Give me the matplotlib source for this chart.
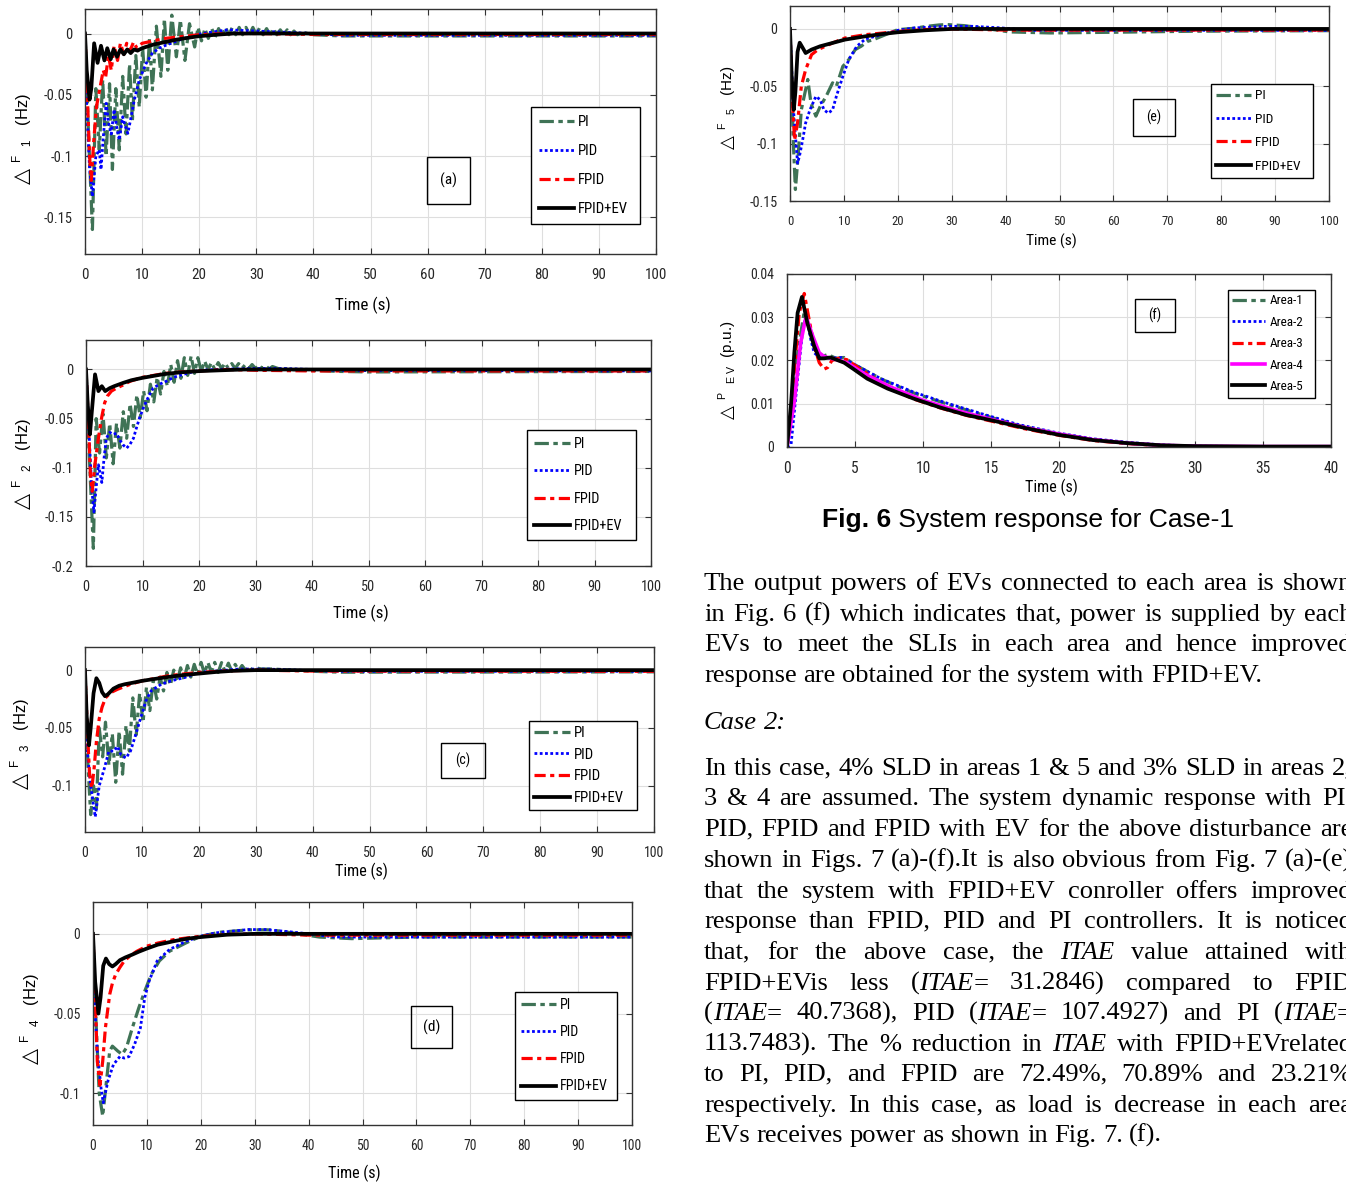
import matplotlib
matplotlib.use("Agg")
import matplotlib.pyplot as plt
from matplotlib import font_manager
from matplotlib.patches import Rectangle
from matplotlib.ticker import FuncFormatter

# ---------------------------------------------------------------
# Frequency deviations, areas 1..5 (time in s, deviation in Hz)
# ---------------------------------------------------------------
controllers = ['PI', 'PID', 'FPID', 'FPID+EV']

# area 1
a_t_pi = [0, 0.6, 1.3, 1.9, 2.5, 3.1, 3.7, 4.3, 4.8, 5.4, 6.0, 6.6, 7.2, 7.8, 8.3, 8.9, 9.5, 10.1, 10.7, 11.3,
          11.8, 12.5, 13.3, 13.9, 14.5, 15.2, 16.0, 16.7, 17.5, 18.3, 19.2, 19.8, 20.4, 21.0, 21.6, 22.2, 22.8,
          23.4, 24.0, 24.6, 25.2, 25.8, 26.4, 27.0, 27.6, 28.2, 28.8, 29.4, 30.0, 30.6, 31.2, 31.8, 32.4, 33.0,
          33.6, 34.2, 34.8, 35.4, 36.0, 36.6, 37.2, 38, 40, 45, 100]
a_pi = [0, -0.08, -0.160, -0.045, -0.095, -0.038, -0.100, -0.041, -0.111, -0.045, -0.095, -0.035, -0.082,
        -0.025, -0.071, -0.018, -0.060, -0.012, -0.052, -0.004, -0.046, 0.006, -0.035, 0.012, -0.030, 0.015,
        -0.019, 0.011, -0.022, 0.008, -0.011, 0.005, -0.006, 0.004, -0.004, 0.004, -0.003, 0.004, -0.002,
        0.005, -0.001, 0.005, -0.001, 0.005, -0.001, 0.005, -0.001, 0.005, -0.001, 0.005, -0.001, 0.004,
        -0.001, 0.004, -0.001, 0.003, -0.001, 0.003, -0.001, 0.002, -0.001, 0.001, -0.001, -0.002, -0.002]
a_t_pid = [0, 0.3, 0.8, 1.3, 1.9, 2.5, 2.8, 3.2, 3.7, 4.2, 4.6, 5.1, 5.6, 6.0, 6.6, 7.0, 7.5, 8.0, 8.6, 9.5,
           10.7, 11.8, 13.0, 14.2, 16.5, 19.5, 22, 25, 30, 35, 40, 45, 100]
a_pid = [0, -0.06, -0.11, -0.133, -0.10, -0.095, -0.111, -0.085, -0.057, -0.075, -0.082, -0.062, -0.078,
         -0.087, -0.068, -0.075, -0.0815, -0.07, -0.055, -0.038, -0.0245, -0.016, -0.012, -0.0095, -0.0054,
         -0.001, 0.001, 0.003, 0.002, 0.001, 0, -0.0015, -0.0015]
a_t_fpid = [0, 0.4, 0.8, 1.1, 1.5, 2.0, 2.6, 3.2, 3.6, 4.1, 4.6, 5.1, 5.7, 6.2, 6.8, 7.3, 7.9, 8.5, 9.1, 10,
            12, 14, 16, 18, 20, 25, 30, 40, 100]
a_fpid = [0, -0.05, -0.10, -0.12, -0.09, -0.06, -0.045, -0.03, -0.036, -0.018, -0.03, -0.01, -0.022, -0.008,
          -0.017, -0.008, -0.014, -0.007, -0.012, -0.008, -0.006, -0.004, -0.003, -0.002, -0.001, 0, 0,
          -0.0008, -0.0008]
a_t_ev = [0, 0.3, 0.8, 1.1, 1.6, 2.2, 2.8, 3.4, 3.9, 4.5, 5.0, 5.6, 6.2, 6.8, 7.4, 8.0, 8.6, 9.2, 10, 12, 14,
          16, 18, 20, 23, 26, 30, 100]
a_ev = [0, -0.03, -0.054, -0.045, -0.008, -0.024, -0.010, -0.022, -0.012, -0.021, -0.013, -0.019, -0.013,
        -0.017, -0.013, -0.016, -0.013, -0.014, -0.012, -0.009, -0.007, -0.005, -0.0035, -0.0022, -0.001, 0,
        0, 0]

# area 2
b_t_pi = [0, 0.6, 1.3, 1.8, 2.4, 3.0, 3.6, 4.2, 4.8, 5.4, 6.0, 6.6, 7.2, 7.8, 8.4, 9.0, 9.6, 10.2, 10.8, 11.4,
          12.0, 12.6, 13.2, 13.8, 14.4, 15.0, 15.6, 16.2, 16.8, 17.4, 18.0, 18.6, 19.2, 19.8, 20.4, 21.0, 21.6,
          22.2, 22.8, 23.4, 24.0, 24.6, 25.2, 25.8, 26.4, 27.0, 27.6, 28.2, 28.8, 29.4, 30.0, 30.6, 31.2, 31.8,
          32.4, 33.0, 34, 36, 40, 45, 50, 100]
b_pi = [0, -0.09, -0.182, -0.05, -0.085, -0.045, -0.09, -0.055, -0.096, -0.055, -0.08, -0.043, -0.07, -0.035,
        -0.058, -0.026, -0.049, -0.022, -0.042, -0.015, -0.033, -0.008, -0.025, -0.002, -0.017, 0.005, -0.013,
        0.009, -0.009, 0.012, -0.006, 0.0136, -0.004, 0.012, -0.002, 0.0085, 0.0, 0.007, 0.0, 0.007, 0.001,
        0.0065, 0.001, 0.006, 0.001, 0.006, 0.001, 0.005, 0.001, 0.005, 0.001, 0.0045, 0.001, 0.004, 0.0005,
        0.003, 0.001, 0.0, -0.001, -0.002, -0.0025, -0.002]
b_t_pid = [0, 0.5, 1.0, 1.4, 1.8, 2.2, 2.8, 3.2, 3.6, 4.2, 4.8, 5.4, 6.0, 6.6, 7.2, 7.8, 8.4, 9.0, 9.5, 10.1,
           10.7, 11.3, 11.9, 13.0, 14.2, 15.5, 17.2, 18.5, 20, 23, 26, 30, 35, 40, 45, 100]
b_pid = [0, -0.06, -0.12, -0.145, -0.12, -0.097, -0.115, -0.09, -0.07, -0.064, -0.066, -0.065, -0.072, -0.077,
         -0.08, -0.076, -0.07, -0.058, -0.049, -0.04, -0.032, -0.025, -0.019, -0.015, -0.012, -0.008, -0.005,
         -0.003, -0.001, 0, 0.0005, 0.001, 0.001, 0, -0.001, -0.0015]
b_t_fpid = [0, 0.4, 0.8, 1.1, 1.5, 2.2, 2.8, 3.3, 3.8, 4.5, 5.4, 6.5, 7.8, 10, 12, 14, 17, 20, 25, 30, 40, 100]
b_fpid = [0, -0.05, -0.11, -0.124, -0.10, -0.07, -0.048, -0.034, -0.027, -0.022, -0.019, -0.016, -0.012,
          -0.008, -0.006, -0.004, -0.0025, -0.0015, 0, -0.0008, -0.0015, -0.0015]
b_t_ev = [0, 0.3, 0.7, 1.0, 1.6, 2.2, 2.8, 3.4, 4.2, 5, 6.6, 8, 10, 12, 14, 17, 20, 24, 28, 100]
b_ev = [0, -0.035, -0.066, -0.045, -0.005, -0.022, -0.017, -0.022, -0.019, -0.017, -0.0136, -0.011, -0.0085,
        -0.0065, -0.0045, -0.0028, -0.0017, -0.0008, 0, 0]

# area 3
c_t_pi = [0, 0.5, 1.0, 1.5, 2.0, 2.5, 3.1, 3.6, 4.2, 4.8, 5.4, 6.0, 6.6, 7.2, 7.8, 8.4, 9.0, 9.6, 10.2, 10.8,
          11.4, 12.0, 12.6, 13.2, 13.8, 14.4, 15.0, 15.6, 16.2, 16.8, 17.4, 18.0, 18.6, 19.2, 19.8, 20.4, 21.0,
          21.6, 22.2, 22.8, 23.4, 24.0, 24.6, 25.2, 25.8, 26.4, 27.0, 27.6, 28.2, 28.8, 29.4, 30, 31, 33, 36,
          40, 45, 100]
c_pi = [0, -0.08, -0.125, -0.1, -0.12, -0.05, -0.075, -0.045, -0.082, -0.055, -0.097, -0.053, -0.09, -0.048,
        -0.07, -0.024, -0.056, -0.02, -0.045, -0.015, -0.035, -0.009, -0.025, -0.006, -0.018, -0.002, -0.013,
        0.0, -0.01, 0.002, -0.008, 0.004, -0.006, 0.005, -0.004, 0.0067, -0.003, 0.0067, -0.002, 0.0067,
        -0.002, 0.0065, -0.001, 0.006, -0.001, 0.005, -0.0005, 0.004, 0, 0.003, 0, 0.002, 0.001, 0.001, 0,
        -0.001, -0.0018, -0.0015]
c_t_pid = [0, 0.4, 1.0, 1.8, 2.5, 3.4, 4.2, 5.1, 5.7, 6.3, 7.2, 8.0, 8.9, 9.8, 10.7, 11.6, 13.4, 15.1, 17.5,
           20, 23.4, 27, 32, 36, 40, 45, 100]
c_pid = [0, -0.07, -0.1, -0.127, -0.1, -0.085, -0.07, -0.07, -0.066, -0.073, -0.076, -0.07, -0.056, -0.041,
         -0.0267, -0.018, -0.0122, -0.0093, -0.0064, -0.002, -0.0006, 0.0009, 0.0009, 0.0003, -0.0005, -0.001,
         -0.001]
c_t_fpid = [0, 0.4, 0.8, 1.2, 1.6, 2.0, 2.5, 3.0, 3.6, 4.5, 5.7, 8, 10, 12, 14.5, 17, 20, 25, 30, 40, 100]
c_fpid = [0, -0.05, -0.09, -0.102, -0.085, -0.062, -0.042, -0.032, -0.024, -0.0195, -0.0166, -0.0122, -0.0093,
          -0.0075, -0.005, -0.0035, -0.002, -0.0006, 0, -0.0008, -0.001]
c_t_ev = [0, 0.3, 0.7, 1.0, 1.5, 2.0, 2.5, 3.0, 3.5, 4.0, 5.0, 6, 7, 8.5, 10, 12, 14.5, 17, 20, 23, 26, 30, 100]
c_ev = [0, -0.04, -0.065, -0.05, -0.02, -0.007, -0.011, -0.019, -0.0225, -0.021, -0.016, -0.0135, -0.0122,
        -0.0108, -0.0093, -0.0078, -0.006, -0.0044, -0.003, -0.0016, -0.0006, 0, 0]

# area 4
d_t_pi = [0, 0.5, 1.15, 1.8, 2.3, 3.1, 3.6, 4.6, 5.4, 6.2, 7.3, 8.5, 9.6, 10.8, 12.3, 14.2, 17.3, 20, 23.5,
          28.8, 33, 37, 42, 48, 60, 100]
d_pi = [0, -0.05, -0.1, -0.1144, -0.0987, -0.0736, -0.0705, -0.0736, -0.0757, -0.0715, -0.059, -0.0464,
        -0.036, -0.0255, -0.017, -0.0109, -0.0056, -0.0015, 0.001, 0.0025, 0.0025, 0.0006, -0.002, -0.003,
        -0.002, -0.002]
d_t_pid = [0, 0.4, 0.8, 1.5, 1.9, 2.8, 3.8, 5.0, 5.8, 6.7, 7.7, 8.8, 9.6, 10.4, 11.9, 14.2, 17.3, 20, 22.7,
           28.8, 32, 36.5, 40, 45, 100]
d_pid = [0, -0.05, -0.074, -0.097, -0.106, -0.092, -0.082, -0.077, -0.078, -0.077, -0.0695, -0.059, -0.040,
         -0.0297, -0.017, -0.0098, -0.0046, -0.0015, 0.0006, 0.0027, 0.0027, 0.0013, 0, -0.002, -0.002]
d_t_fpid = [0, 0.4, 0.8, 1.3, 1.8, 2.3, 3.1, 3.6, 4.2, 5.0, 5.8, 7, 8.1, 10, 12, 15, 20, 25, 30, 40, 100]
d_fpid = [0, -0.04, -0.08, -0.095, -0.08, -0.059, -0.038, -0.031, -0.0255, -0.021, -0.017, -0.0135, -0.011,
          -0.0077, -0.0058, -0.0036, -0.0015, -0.0004, 0, -0.0008, -0.0008]
d_t_ev = [0, 0.4, 1.0, 1.4, 1.9, 2.4, 3.0, 3.6, 4.2, 5.0, 6, 7.3, 8.5, 10, 12, 15, 17.5, 20, 25, 30, 100]
d_ev = [0, -0.03, -0.05, -0.04, -0.02, -0.0155, -0.019, -0.0205, -0.019, -0.0165, -0.0148, -0.013, -0.0112,
        -0.0092, -0.0068, -0.0046, -0.003, -0.002, -0.0005, 0, 0]

# area 5
e_t_pi = [0, 0.6, 1.0, 1.5, 2.1, 3.3, 3.9, 4.8, 5.6, 6.7, 7.9, 8.6, 9.8, 10.9, 12.1, 13.2, 14.4, 15.5, 17,
          18.5, 20, 23.1, 25.4, 27.7, 29.2, 32.3, 36.9, 40.7, 48.3, 60, 75, 100]
e_pi = [0, -0.097, -0.14, -0.111, -0.0705, -0.044, -0.065, -0.076, -0.0676, -0.0588, -0.047, -0.05, -0.0326,
        -0.0268, -0.018, -0.0151, -0.0108, -0.0093, -0.0064, -0.0035, -0.0006, 0.0006, 0.0023, 0.0035, 0.0038,
        0.0029, 0, -0.0026, -0.0035, -0.0029, -0.002, -0.0015]
e_t_pid = [0, 0.6, 1.4, 1.75, 2.3, 2.9, 3.7, 4.8, 5.6, 6.3, 7.1, 7.9, 8.6, 9.8, 10.9, 12.4, 14, 17, 20, 23.1,
           29.2, 33.8, 39.2, 44.5, 100]
e_pid = [0, -0.0676, -0.117, -0.111, -0.098, -0.082, -0.0705, -0.0588, -0.0617, -0.0705, -0.0734, -0.0705,
         -0.0588, -0.0414, -0.0268, -0.0151, -0.0087, -0.005, -0.0012, 0.0009, 0.0023, 0.0023, 0.0009,
         -0.0012, -0.0012]
e_t_fpid = [0, 0.4, 0.85, 1.4, 2.1, 2.9, 4.0, 5.2, 7.9, 10.2, 14, 20, 25, 30, 40, 100]
e_fpid = [0, -0.06, -0.097, -0.082, -0.05, -0.0355, -0.0224, -0.018, -0.0122, -0.0079, -0.005, -0.0023,
          -0.0005, 0, -0.001, -0.001]
e_t_ev = [0, 0.3, 0.7, 1.0, 1.4, 1.8, 2.3, 2.9, 4.0, 5.6, 7.9, 10.2, 14, 17, 20, 25, 30, 100]
e_ev = [0, -0.04, -0.0705, -0.055, -0.02, -0.012, -0.016, -0.021, -0.018, -0.0151, -0.0122, -0.0093, -0.0064,
        -0.0045, -0.0029, -0.0012, 0, 0]

# EV output power per area (p.u.)
areas = ['Area-1', 'Area-2', 'Area-3', 'Area-4', 'Area-5']
f_t_1 = [0, 0.4, 0.8, 1.25, 1.6, 2.0, 2.4, 3.0, 3.6, 4.2, 5.0, 7, 9.3, 11.8, 14.2, 17, 20, 22.5, 25, 27.5, 30,
         35, 40]
f_p_1 = [0, 0.01, 0.022, 0.031, 0.028, 0.023, 0.0207, 0.0214, 0.0205, 0.0207, 0.019, 0.0156, 0.0125, 0.0099,
         0.0076, 0.005, 0.003, 0.0017, 0.0009, 0.0003, 0.0, -0.0002, -0.0002]
f_t_2 = [0, 0.3, 0.78, 1.15, 1.4, 1.75, 2.0, 2.37, 3.0, 4.0, 4.9, 6.9, 9.3, 11.8, 14.2, 17, 20, 22.5, 25, 27.5,
         30, 35, 40]
f_p_2 = [0, 0.0006, 0.0158, 0.027, 0.0305, 0.0248, 0.0218, 0.0207, 0.0205, 0.0207, 0.0192, 0.0158, 0.0127,
         0.0101, 0.0078, 0.0052, 0.0032, 0.0019, 0.0011, 0.0005, 0.0002, 0.0001, 0.0001]
f_t_3 = [0, 0.3, 0.54, 0.9, 1.27, 1.63, 2.0, 2.37, 2.73, 3.0, 3.3, 3.8, 4.4, 5.4, 7.4, 9.3, 11.3, 13.2, 15,
         17.5, 20, 22.5, 25, 27.5, 30, 35, 40]
f_p_3 = [0, 0.008, 0.018, 0.031, 0.0355, 0.0294, 0.0233, 0.0195, 0.018, 0.0184, 0.02, 0.0205, 0.0202, 0.018,
         0.0138, 0.0111, 0.009, 0.0073, 0.006, 0.0042, 0.0027, 0.0015, 0.0008, 0.0003, 0.0001, 0, 0]
f_t_4 = [0, 0.54, 1.0, 1.4, 1.9, 2.37, 2.73, 3.5, 4.4, 5.7, 7.6, 10, 12.5, 15, 17.5, 20, 22.5, 25, 27.5, 30,
         35, 40]
f_p_4 = [0, 0.0105, 0.024, 0.0302, 0.0256, 0.0218, 0.0209, 0.0203, 0.0195, 0.0169, 0.0139, 0.0108, 0.0084,
         0.0064, 0.0045, 0.003, 0.0017, 0.0009, 0.0004, 0.0002, 0.0001, 0.0001]
f_t_5 = [0, 0.3, 0.54, 0.78, 1.1, 1.5, 2.0, 2.37, 2.73, 3.2, 4.2, 4.9, 5.9, 7.4, 9.3, 11.3, 13.2, 15, 17.5, 20,
         22.5, 25, 27.5, 30, 35, 40]
f_p_5 = [0, 0.01, 0.0218, 0.031, 0.0347, 0.0286, 0.0233, 0.0205, 0.0205, 0.0207, 0.0195, 0.018, 0.0158,
         0.0135, 0.0112, 0.0091, 0.0074, 0.0062, 0.0044, 0.0028, 0.0016, 0.0009, 0.0004, 0.0002, 0.0001, 0.0001]

# text column beside the figure ('*' toggles italics)
body_lines = [
    "The output powers of EVs connected to each area is shown",
    "in Fig. 6 (f) which indicates that, power is supplied by each",
    "EVs to meet the SLIs in each area and hence improved",
    "response are obtained for the system with FPID+EV.",
    "*Case 2:*",
    "In this case, 4% SLD in areas 1 & 5 and 3% SLD in areas 2,",
    "3 & 4 are assumed. The system dynamic response with PI,",
    "PID, FPID and FPID with EV for the above disturbance are",
    "shown in Figs. 7 (a)-(f).It is also obvious from Fig. 7 (a)-(e)",
    "that the system with FPID+EV conroller offers improved",
    "response than FPID, PID and PI controllers. It is noticed",
    "that, for the above case, the *ITAE* value attained with",
    "FPID+EVis less (*ITAE*= 31.2846) compared to FPID",
    "(*ITAE*= 40.7368), PID (*ITAE*= 107.4927) and PI (*ITAE*=",
    "113.7483). The % reduction in *ITAE* with FPID+EVrelated",
    "to PI, PID, and FPID are 72.49%, 70.89% and 23.21%",
    "respectively. In this case, as load is decrease in each area",
    "EVs receives power as shown in Fig. 7. (f).",
]
body_justify = [True, True, True, False, False, True, True, True, True, True, True, True, True, True, True,
                True, True, False]
body_y = [582, 613, 643, 674, 721, 767, 797, 828, 859, 890, 920, 951, 982, 1012, 1043, 1073, 1104, 1134]

# ---------------------------------------------------------------
# fonts: prefer a narrow sans for the plot texts
# ---------------------------------------------------------------
W, H = 1346, 1184
entries = font_manager.fontManager.ttflist
names = {f.name for f in entries}
NARROW = None
for cand in ['Liberation Sans Narrow', 'Arial Narrow', 'Nimbus Sans Narrow', 'Roboto Condensed',
             'Open Sans Condensed', 'Noto Sans Condensed']:
    if cand in names:
        NARROW = cand
        break
if NARROW is None:
    if any(f.name == 'DejaVu Sans' and 'condensed' in str(f.stretch) for f in entries):
        NARROW = 'DejaVu Sans'
        plt.rcParams['font.stretch'] = 'condensed'
    else:
        NARROW = 'Liberation Sans'
plt.rcParams['font.family'] = [NARROW, 'DejaVu Sans']
plt.rcParams['mathtext.fontset'] = 'custom'
plt.rcParams['mathtext.rm'] = 'Liberation Sans'

fig = plt.figure(figsize=(W / 100, H / 100), dpi=100, facecolor='white')
renderer = fig.canvas.get_renderer()

# the plot lettering is taller than its width alone suggests
FS_GAIN = 1.12


def fx(x):
    return x / W


def fy(y):
    return 1 - y / H


def px_rect(l, t, r, b):
    return [l / W, 1 - b / H, (r - l) / W, (b - t) / H]


def text_w(s, **kw):
    t = fig.text(0, 0, s, **kw)
    w = t.get_window_extent(renderer).width
    t.remove()
    return w


def fit_fs(sample, target_px, **kw):
    # font size that gives the sample string about the wanted width
    return FS_GAIN * 10 * target_px / text_w(sample, fontsize=10, **kw)


STYLES = {
    'PI': dict(color='#3F7356', lw=2.3, ls=(0, (4.5, 1.4, 1.4, 1.4))),
    'PID': dict(color='#0000FF', lw=2.0, ls=(0, (1, 0.9))),
    'FPID': dict(color='#FF0000', lw=2.3, ls=(0, (3.5, 1.4, 1.3, 1.4))),
    'FPID+EV': dict(color='black', lw=2.7, ls='-'),
}
AREA_STYLES = {
    'Area-1': STYLES['PI'],
    'Area-2': STYLES['PID'],
    'Area-3': STYLES['FPID'],
    'Area-4': dict(color='#FF00FF', lw=2.6, ls='-'),
    'Area-5': dict(color='black', lw=2.7, ls='-'),
}


def tick_fmt(v, _):
    return '%g' % round(v, 4) if abs(v) > 1e-9 else '0'


def setup(ax, xlim, xticks, ylim, yticks, fsx, fsy):
    ax.set_xlim(*xlim)
    ax.set_ylim(*ylim)
    ax.set_xticks(xticks)
    ax.set_yticks(yticks)
    ax.yaxis.set_major_formatter(FuncFormatter(tick_fmt))
    ax.grid(True, color='#dedede', lw=0.8)
    ax.set_axisbelow(True)
    ax.tick_params(direction='in', top=True, right=True, length=4, width=0.8,
                   colors='#333333', labelcolor='#262626')
    ax.tick_params(axis='x', labelsize=fsx, pad=10)
    ax.tick_params(axis='y', labelsize=fsy, pad=9)
    for s in ax.spines.values():
        s.set_linewidth(1.0)
        s.set_color('#333333')


def add_legend(ax, handles, labels, box, fs, pitch, first_c, handle_px):
    l, t, r, b = box
    fs_px = fs * 100 / 72
    leg = ax.legend(handles, labels, loc='upper left',
                    bbox_to_anchor=(fx(l), fy(b), (r - l) / W, (b - t) / H),
                    bbox_transform=fig.transFigure, mode='expand', fontsize=fs,
                    frameon=True, fancybox=False, edgecolor='black', framealpha=1,
                    borderaxespad=0, handlelength=handle_px / fs_px, handletextpad=0.3,
                    labelspacing=pitch / fs_px - 0.94, borderpad=(first_c - t) / fs_px - 0.42)
    leg.get_frame().set_linewidth(1.0)
    return leg


def tag_box(box, label, fs=9.5):
    l, t, r, b = box
    fig.add_artist(Rectangle((fx(l), fy(b)), (r - l) / W, (b - t) / H, transform=fig.transFigure,
                             fill=False, edgecolor='black', lw=1.0))
    fig.text(fx((l + r) / 2), fy((t + b) / 2), label, ha='center', va='center', fontsize=fs)


ylabel_marks = []


def labels(ax, ylab, ylab_xy, xlab_y, xlab_w, fs_y, tri_fs):
    fs_x = fit_fs('Time (s)', xlab_w)
    ax.set_xlabel('Time (s)', fontsize=fs_x)
    pos = ax.get_position()
    ax.xaxis.set_label_coords(pos.x0 + pos.width / 2 - 8 / W, fy(xlab_y), transform=fig.transFigure)
    ax.xaxis.label.set_verticalalignment('center')
    ax.set_ylabel(ylab, fontsize=fs_y, family=['Liberation Sans', 'DejaVu Sans'])
    ax.yaxis.set_label_coords(fx(ylab_xy[0]), fy(ylab_xy[1] - 12), transform=fig.transFigure)
    ax.yaxis.label.set_verticalalignment('center')
    ylabel_marks.append((ax, tri_fs))


def freq_panel(rect, series, ylim, yticks, sub, ylab_xy, xlab_y, leg_box, leg_w, pitch, first_c,
               handle_px, x100_w, y005_w, xlab_w, tri_fs=15, fs_y=12):
    ax = fig.add_axes(px_rect(*rect))
    handles = []
    for name, (t, v) in zip(controllers, series):
        st = STYLES[name]
        ln, = ax.plot(t, v, color=st['color'], lw=st['lw'], linestyle=st['ls'],
                      dash_capstyle='butt', solid_joinstyle='round')
        handles.append(ln)
    setup(ax, (0, 100), range(0, 101, 10), ylim, yticks, fit_fs('100', x100_w), fit_fs('-0.05', y005_w))
    ylab = '${}^{\\mathrm{F}}\\;\\;{}_{\\mathrm{%s}}$   (Hz)' % sub
    labels(ax, ylab, ylab_xy, xlab_y, xlab_w, fs_y, tri_fs)
    add_legend(ax, handles, controllers, leg_box, fit_fs('FPID+EV', leg_w), pitch, first_c, handle_px)
    return ax


freq_panel((85, 9, 656, 254), [(a_t_pi, a_pi), (a_t_pid, a_pid), (a_t_fpid, a_fpid), (a_t_ev, a_ev)],
           (-0.18, 0.02), [-0.15, -0.1, -0.05, 0], '1', (22, 140), 305,
           (531, 107, 640, 229), 45, 29, 121, 35, 19.5, 25.6, 49)
tag_box((427, 157, 470, 204), '(a)', 11)

freq_panel((86, 340, 651, 566), [(b_t_pi, b_pi), (b_t_pid, b_pid), (b_t_fpid, b_fpid), (b_t_ev, b_ev)],
           (-0.2, 0.03), [-0.2, -0.15, -0.1, -0.05, 0], '2', (22, 465), 613,
           (527, 430, 636, 543), 43.5, 26.7, 443, 36, 18.5, 25.6, 49)

freq_panel((85, 647, 654, 832), [(c_t_pi, c_pi), (c_t_pid, c_pid), (c_t_fpid, c_fpid), (c_t_ev, c_ev)],
           (-0.14, 0.02), [-0.1, -0.05, 0], '3', (20, 745), 871,
           (529, 721, 637, 813), 45, 21.7, 732, 36, 18, 24.8, 47)
tag_box((441, 743, 485, 778), '(c)', 10)

freq_panel((93, 902, 632, 1125), [(d_t_pi, d_pi), (d_t_pid, d_pid), (d_t_fpid, d_fpid), (d_t_ev, d_ev)],
           (-0.12, 0.02), [-0.1, -0.05, 0], '4', (30, 1020), 1173,
           (515, 992, 617, 1103), 42.7, 26.3, 1004, 35, 17.8, 24, 46.4)
tag_box((411, 1006, 452, 1048), '(d)', 11)

freq_panel((790, 6, 1329, 201), [(e_t_pi, e_pi), (e_t_pid, e_pid), (e_t_fpid, e_fpid), (e_t_ev, e_ev)],
           (-0.15, 0.02), [-0.15, -0.1, -0.05, 0], '5', (728, 110), 241,
           (1211, 84, 1313, 181), 40.8, 23, 95, 35, 16.5, 25, 45, tri_fs=13, fs_y=11)
tag_box((1133, 99, 1175, 136), '(e)', 10)

# EV power panel
axf = fig.add_axes(px_rect(787, 274, 1331, 447))
f_handles = []
for name, t, p in zip(areas, [f_t_1, f_t_2, f_t_3, f_t_4, f_t_5], [f_p_1, f_p_2, f_p_3, f_p_4, f_p_5]):
    st = AREA_STYLES[name]
    ln, = axf.plot(t, p, color=st['color'], lw=st['lw'], linestyle=st['ls'], dash_capstyle='butt')
    f_handles.append(ln)
setup(axf, (0, 40), range(0, 41, 5), (0, 0.04), [0, 0.01, 0.02, 0.03, 0.04],
      fit_fs('40', 13.6), fit_fs('0.02', 21.4))
labels(axf, '${}^{\\mathrm{P}}\\;\\;{}_{\\mathrm{E\\ V}}$  (p.u.)', (728, 372), 487, 47, 11, 13)
add_legend(axf, f_handles, areas, (1228, 290, 1315, 398), fit_fs('Area-5', 30), 20.75, 300, 33)
tag_box((1135, 299, 1175, 332), '(f)', 10)

# triangle sign below each y label
fig.canvas.draw()
for ax, tri_fs in ylabel_marks:
    bb = ax.yaxis.label.get_window_extent(renderer)
    cx = (bb.x0 + bb.x1) / 2
    cy = bb.y0 - 4 - tri_fs * 100 / 72 * 0.45
    fig.text(cx / W, cy / H, '\u25b3', rotation=90, fontsize=tri_fs, ha='center', va='center',
             family=['DejaVu Sans'])

# caption
cap_kw = dict(family=['Liberation Sans', 'DejaVu Sans'])
w_ref = text_w('Fig. 6', fontsize=17, weight='bold', **cap_kw) + text_w(' System response for Case-1',
                                                                      fontsize=17, **cap_kw)
cap_fs = 17 * 412 / w_ref
t1 = fig.text(fx(822), fy(520), 'Fig. 6', fontsize=cap_fs, weight='bold', va='center', **cap_kw)
w1 = t1.get_window_extent(renderer).width
fig.text(fx(822 + w1), fy(520), ' System response for Case-1', fontsize=cap_fs, va='center', **cap_kw)

# body text, justified between x=704 and x=1352
serif = ['Liberation Serif', 'DejaVu Serif']
w_last = text_w(body_lines[-1], fontsize=18, family=serif)
body_fs = 18 * 459 / w_last
body_px = body_fs * 100 / 72
X_LEFT, X_RIGHT = 704, 1352


def split_words(line):
    words = []
    italic = False
    for w in line.split(' '):
        segs = []
        for k, part in enumerate(w.split('*')):
            if k > 0:
                italic = not italic
            if part:
                segs.append((part, italic))
        words.append(segs)
    return words


for line, just, yc in zip(body_lines, body_justify, body_y):
    words = split_words(line)
    widths = []
    for segs in words:
        widths.append(sum(text_w(s, fontsize=body_fs, family=serif, style='italic' if it else 'normal')
                          for s, it in segs))
    if just and len(words) > 1:
        gap = (X_RIGHT - X_LEFT - sum(widths)) / (len(words) - 1)
    else:
        gap = 0.25 * body_px
    x = X_LEFT
    base = yc + 0.30 * body_px
    for segs, w in zip(words, widths):
        xx = x
        for s, it in segs:
            t = fig.text(fx(xx), fy(base), s, fontsize=body_fs, family=serif,
                         style='italic' if it else 'normal', va='baseline')
            xx += t.get_window_extent(renderer).width
        x += w + gap

fig.savefig('out.png', dpi=100, facecolor='white')
